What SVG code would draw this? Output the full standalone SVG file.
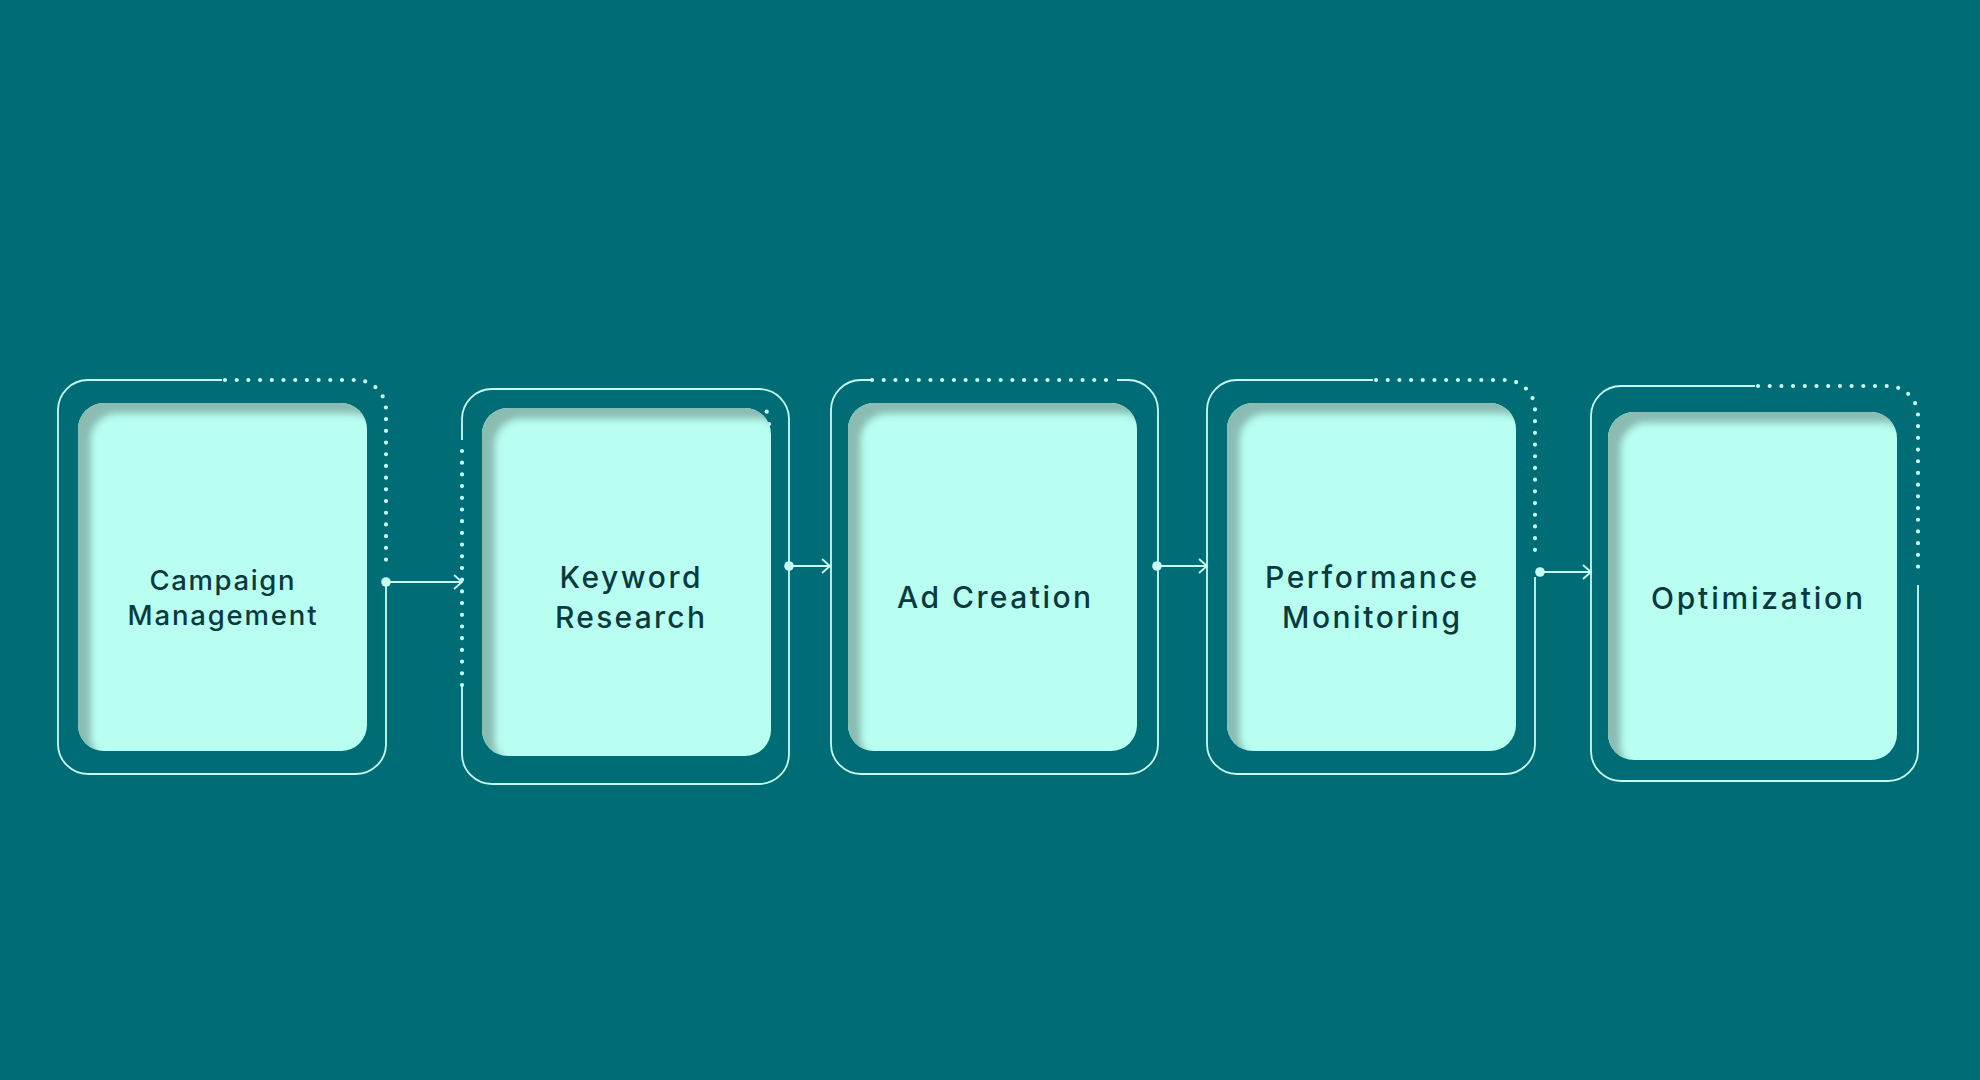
<svg xmlns="http://www.w3.org/2000/svg" width="1980" height="1080" viewBox="0 0 1980 1080">
<defs>
<style>
.frame{fill:none;stroke:#C6FBF2;stroke-width:1.8;}
.dots{fill:none;stroke:#C6FBF2;stroke-width:4.2;stroke-linecap:round;stroke-dasharray:0 11.7;}
.card{fill:#B8FFF1;filter:url(#inset);}
.lbl{font-family:Inter,"Noto Sans",sans-serif;font-weight:500;fill:#0B3A3E;text-anchor:middle;}
.conn{fill:none;stroke:#C6FBF2;stroke-width:1.8;}
.dot{fill:#C6FBF2;}
</style>
<filter id="inset" x="-10%" y="-10%" width="120%" height="120%">
<feFlood flood-color="#8ABCB2" result="f"/>
<feComposite in="f" in2="SourceAlpha" operator="out" result="o"/>
<feOffset in="o" dx="13" dy="11" result="off"/>
<feGaussianBlur in="off" stdDeviation="3.5" result="b"/>
<feComposite in="b" in2="SourceAlpha" operator="in" result="s"/>
<feMerge><feMergeNode in="SourceGraphic"/><feMergeNode in="s"/></feMerge>
</filter>
<marker id="arr" markerWidth="14" markerHeight="16" refX="10" refY="8" orient="auto" markerUnits="userSpaceOnUse">
<path d="M2,1 L10,8 L2,15" fill="none" stroke="#C6FBF2" stroke-width="1.8"/>
</marker>
</defs>
<rect width="1980" height="1080" fill="#006D76"/>

<g id="node-campaign">
<path class="frame" d="M222,380 H88 A30,30 0 0 0 58,410 V744 A30,30 0 0 0 88,774 H356 A30,30 0 0 0 386,744 V582"/>
<path class="dots" d="M225,380 H356 A30,30 0 0 1 386,410 V567"/>
<rect class="card" x="78" y="403" width="289" height="348" rx="26"/>
<text class="lbl" font-size="27.5" x="222" y="590" textLength="145" lengthAdjust="spacing">Campaign</text>
<text class="lbl" font-size="27.5" x="222" y="625" textLength="189" lengthAdjust="spacing">Management</text>
</g>

<g id="node-keyword">
<path class="frame" d="M462,440 V419 A30,30 0 0 1 492,389 H759 A30,30 0 0 1 789,419 V754 A30,30 0 0 1 759,784 H492 A30,30 0 0 1 462,754 V685"/>
<path class="dots" d="M462,451 V685"/>
<circle class="dot" cx="766.7" cy="411.7" r="2.1"/>
<circle class="dot" cx="769" cy="424" r="2.1"/>
<rect class="card" x="482" y="408" width="289" height="348" rx="26"/>
<text class="lbl" font-size="30" x="630" y="588" textLength="141" lengthAdjust="spacing">Keyword</text>
<text class="lbl" font-size="30" x="630" y="628" textLength="150" lengthAdjust="spacing">Research</text>
</g>

<g id="node-adcreation">
<path class="frame" d="M872,380 H861 A30,30 0 0 0 831,410 V744 A30,30 0 0 0 861,774 H1128 A30,30 0 0 0 1158,744 V410 A30,30 0 0 0 1128,380 H1117"/>
<path class="dots" d="M872,380 H1117"/>
<rect class="card" x="848" y="403" width="289" height="348" rx="26"/>
<text class="lbl" font-size="30" x="994" y="608" textLength="194" lengthAdjust="spacing">Ad Creation</text>
</g>

<g id="node-performance">
<path class="frame" d="M1373,380 H1237 A30,30 0 0 0 1207,410 V744 A30,30 0 0 0 1237,774 H1505 A30,30 0 0 0 1535,744 V577"/>
<path class="dots" d="M1376,380 H1505 A30,30 0 0 1 1535,410 V558"/>
<rect class="card" x="1227" y="403" width="289" height="348" rx="26"/>
<text class="lbl" font-size="30" x="1371" y="588" textLength="212" lengthAdjust="spacing">Performance</text>
<text class="lbl" font-size="30" x="1371" y="628" textLength="178" lengthAdjust="spacing">Monitoring</text>
</g>

<g id="node-optimization">
<path class="frame" d="M1755,386 H1621 A30,30 0 0 0 1591,416 V751 A30,30 0 0 0 1621,781 H1888 A30,30 0 0 0 1918,751 V585"/>
<path class="dots" d="M1758,386 H1888 A30,30 0 0 1 1918,416 V577"/>
<rect class="card" x="1608" y="412" width="289" height="348" rx="26"/>
<text class="lbl" font-size="30" x="1757" y="609" textLength="212" lengthAdjust="spacing">Optimization</text>
</g>

<g id="connectors">
<circle class="dot" cx="386" cy="582" r="4.8"/>
<path class="conn" d="M386,582 H462" marker-end="url(#arr)"/>
<circle class="dot" cx="789" cy="566" r="4.8"/>
<path class="conn" d="M789,566 H830" marker-end="url(#arr)"/>
<circle class="dot" cx="1157" cy="566" r="4.8"/>
<path class="conn" d="M1157,566 H1207" marker-end="url(#arr)"/>
<circle class="dot" cx="1540" cy="572" r="4.8"/>
<path class="conn" d="M1540,572 H1591" marker-end="url(#arr)"/>
</g>
</svg>
